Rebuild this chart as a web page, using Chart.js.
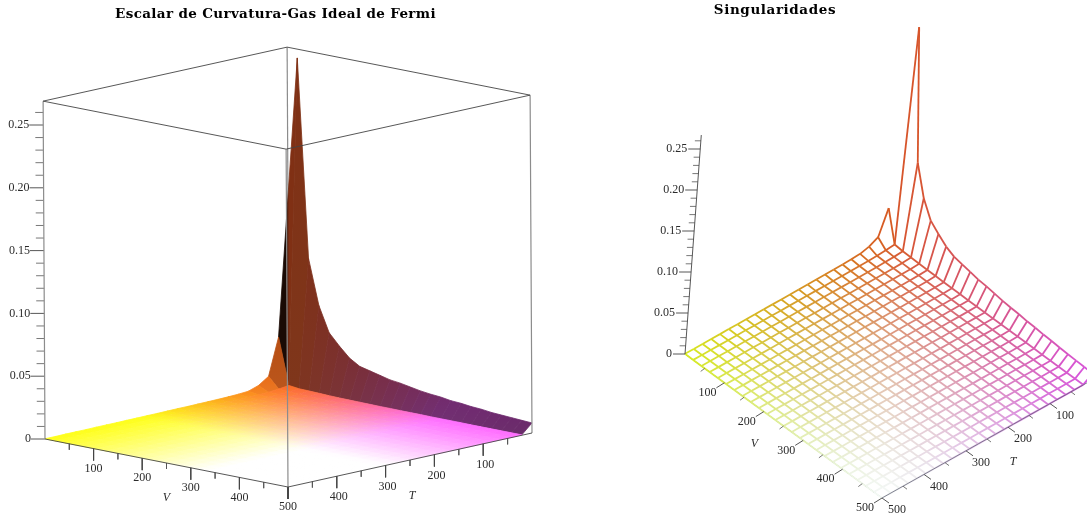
<!DOCTYPE html>
<html>
<head>
<meta charset="utf-8">
<style>
	html, body { margin: 0; background: #fff; }
	canvas { display: block; }
</style>
<script src="https://cdn.jsdelivr.net/npm/chart.js@4"></script>
</head>
<body>
<canvas id="chart" width="1087" height="521"></canvas>
<script>
// grid of the surface, same on both plots
const vGrid = [0, 20.8, 41.7, 62.5, 83.3, 104.2, 125, 145.8, 166.7, 187.5, 208.3, 229.2, 250, 270.8, 291.7, 312.5, 333.3, 354.2, 375, 395.8, 416.7, 437.5, 458.3, 479.2, 500];
const tGrid = [0, 20.8, 41.7, 62.5, 83.3, 104.2, 125, 145.8, 166.7, 187.5, 208.3, 229.2, 250, 270.8, 291.7, 312.5, 333.3, 354.2, 375, 395.8, 416.7, 437.5, 458.3, 479.2, 500];

// curvature, one row per T, one column per V
const zGrid = [
	[null, .262, .104, .068, .048, .039, .031, .026, .024, .022, .020, .019, .0175, .016, .015, .0143, .013, .0125, .0115, .011, .010, .0095, .009, .0085, .008],
	[.040, .0030, .0020, .0018, .0015, .0012, .0010, .0009, .0008, .0007, .0006, .0006, .0005, .0005, .0005, .0004, .0004, .0004, .0004, .0003, .0003, .0003, .0003, .0003, .0003],
	[.0105, .0020, .0012, .0009, .0007, .0006, .0005, .0005, .0004, .0004, .0003, .0003, .0003, .0003, .0002, .0002, .0002, .0002, .0002, .0002, .0002, .0002, .0002, .0001, .0001],
	[.0050, .0012, .0009, .0006, .0005, .0004, .0003, .0003, .0003, .0002, .0002, .0002, .0002, .0002, .0002, .0001, .0001, .0001, .0001, .0001, .0001, .0001, .0001, .0001, .0001],
	[.0022, .0009, .0006, .0005, .0004, .0003, .0003, .0002, .0002, .0002, .0002, .0001, .0001, .0001, .0001, .0001, .0001, .0001, .0001, .0001, .0001, .0001, .0001, .0001, .0001],
	[.0016, .0007, .0005, .0004, .0003, .0002, .0002, .0002, .0002, .0001, .0001, .0001, .0001, .0001, .0001, .0001, .0001, .0001, .0001, .0001, .0001, 0, 0, 0, 0],
	[.0013, .0006, .0004, .0003, .0002, .0002, .0002, .0001, .0001, .0001, .0001, .0001, .0001, .0001, .0001, .0001, 0, 0, 0, 0, 0, 0, 0, 0, 0],
	[.0011, .0005, .0003, .0003, .0002, .0002, .0001, .0001, .0001, .0001, .0001, .0001, .0001, 0, 0, 0, 0, 0, 0, 0, 0, 0, 0, 0, 0],
	[.0010, .0004, .0003, .0002, .0002, .0001, .0001, .0001, .0001, .0001, .0001, 0, 0, 0, 0, 0, 0, 0, 0, 0, 0, 0, 0, 0, 0],
	[.0009, .0004, .0003, .0002, .0002, .0001, .0001, .0001, .0001, .0001, 0, 0, 0, 0, 0, 0, 0, 0, 0, 0, 0, 0, 0, 0, 0],
	[.0008, .0003, .0002, .0002, .0001, .0001, .0001, .0001, .0001, 0, 0, 0, 0, 0, 0, 0, 0, 0, 0, 0, 0, 0, 0, 0, 0],
	[.0008, .0003, .0002, .0002, .0001, .0001, .0001, .0001, 0, 0, 0, 0, 0, 0, 0, 0, 0, 0, 0, 0, 0, 0, 0, 0, 0],
	[.0007, .0003, .0002, .0001, .0001, .0001, .0001, 0, 0, 0, 0, 0, 0, 0, 0, 0, 0, 0, 0, 0, 0, 0, 0, 0, 0],
	[.0006, .0003, .0002, .0001, .0001, .0001, .0001, 0, 0, 0, 0, 0, 0, 0, 0, 0, 0, 0, 0, 0, 0, 0, 0, 0, 0],
	[.0006, .0002, .0002, .0001, .0001, .0001, 0, 0, 0, 0, 0, 0, 0, 0, 0, 0, 0, 0, 0, 0, 0, 0, 0, 0, 0],
	[.0005, .0002, .0001, .0001, .0001, .0001, 0, 0, 0, 0, 0, 0, 0, 0, 0, 0, 0, 0, 0, 0, 0, 0, 0, 0, 0],
	[.0005, .0002, .0001, .0001, .0001, 0, 0, 0, 0, 0, 0, 0, 0, 0, 0, 0, 0, 0, 0, 0, 0, 0, 0, 0, 0],
	[.0004, .0002, .0001, .0001, .0001, 0, 0, 0, 0, 0, 0, 0, 0, 0, 0, 0, 0, 0, 0, 0, 0, 0, 0, 0, 0],
	[.0004, .0002, .0001, .0001, 0, 0, 0, 0, 0, 0, 0, 0, 0, 0, 0, 0, 0, 0, 0, 0, 0, 0, 0, 0, 0],
	[.0004, .0002, .0001, .0001, 0, 0, 0, 0, 0, 0, 0, 0, 0, 0, 0, 0, 0, 0, 0, 0, 0, 0, 0, 0, 0],
	[.0003, .0001, .0001, .0001, 0, 0, 0, 0, 0, 0, 0, 0, 0, 0, 0, 0, 0, 0, 0, 0, 0, 0, 0, 0, 0],
	[.0003, .0001, .0001, 0, 0, 0, 0, 0, 0, 0, 0, 0, 0, 0, 0, 0, 0, 0, 0, 0, 0, 0, 0, 0, 0],
	[.0003, .0001, .0001, 0, 0, 0, 0, 0, 0, 0, 0, 0, 0, 0, 0, 0, 0, 0, 0, 0, 0, 0, 0, 0, 0],
	[.0002, .0001, .0001, 0, 0, 0, 0, 0, 0, 0, 0, 0, 0, 0, 0, 0, 0, 0, 0, 0, 0, 0, 0, 0, 0],
	[.0002, .0001, 0, 0, 0, 0, 0, 0, 0, 0, 0, 0, 0, 0, 0, 0, 0, 0, 0, 0, 0, 0, 0, 0, 0]
];

const vtMajorTicks = [100, 200, 300, 400, 500];
const vtMinorTicks = [50, 150, 250, 350, 450];
const zMajorTicks = [0, 0.05, 0.10, 0.15, 0.20, 0.25];
const zMinorTicks = [0.01, 0.02, 0.03, 0.04, 0.06, 0.07, 0.08, 0.09, 0.11, 0.12, 0.13, 0.14, 0.16, 0.17, 0.18, 0.19, 0.21, 0.22, 0.23, 0.24, 0.26];
const zTop = 0.269;

const titles = ['Escalar de Curvatura-Gas Ideal de Fermi', 'Singularidades'];

// affine views: corner V=0,T=0 plus one step per unit of V, T and z
const leftView = { ox: 289, oy: 385, vx: 243 / 500, vy: 48 / 500, tx: -244 / 500, ty: 54 / 500, zx: -7, zy: -1256 };
const rightView = { ox: 895, oy: 236, vx: 197 / 500, vy: 144 / 500, tx: -210 / 500, ty: 118 / 500, zx: 61, zy: -820 };

function project(view, v, t, z) {
	return {
		x: view.ox + v * view.vx + t * view.tx + z * view.zx,
		y: view.oy + v * view.vy + t * view.ty + z * view.zy
	};
}

function surfaceColor(v, t) {
	return [255, 255 * Math.min(1, 0.38 + 0.62 * t / 300), 255 * Math.min(1, 0.1 + 0.9 * v / 330)];
}

function css(rgb, shade) {
	return `rgb(${rgb.map(c => Math.round(c * shade)).join(',')})`;
}

function facetShade(i, j, corners) {
	if (j === 0) return 0.5 - 0.08 * i / 23;
	const zs = corners.map(c => c.z);
	return 1 / (1 + (Math.max(...zs) - Math.min(...zs)) * 10);
}

const datasets = [];

// filled surface, one dataset per facet, back corner first
for (let j = 0; j < tGrid.length - 1; j++) {
	for (let i = 0; i < vGrid.length - 1; i++) {
		const corners = [[i, j], [i + 1, j], [i + 1, j + 1], [i, j + 1]]
			.filter(([a, b]) => zGrid[b][a] !== null)
			.map(([a, b]) => ({ v: vGrid[a], t: tGrid[b], z: zGrid[b][a] }));
		const pts = corners.map(c => project(leftView, c.v, c.t, c.z));
		const shade = facetShade(i, j, corners);
		const isWedge = corners.length === 3;
		const a = corners[0], b = corners[isWedge ? 1 : 2];
		const paint = (ctx) => {
			const sx = ctx.chart.scales.x, sy = ctx.chart.scales.y;
			const pa = project(leftView, a.v, a.t, a.z), pb = project(leftView, b.v, b.t, b.z);
			const x0 = sx.getPixelForValue(pa.x), y0 = sy.getPixelForValue(pa.y);
			const x1 = sx.getPixelForValue(pb.x), y1 = sy.getPixelForValue(pb.y);
			// scales are not laid out yet on the first pass
			if (![x0, y0, x1, y1].every(Number.isFinite)) return css(surfaceColor(a.v, a.t), shade);
			if (isWedge) {
				// the wedge behind the spike: black left of the foot of the spike, brown to the right
				const grad = ctx.chart.ctx.createLinearGradient(x1 - 3, 0, x1, 0);
				grad.addColorStop(0, css(surfaceColor(a.v, a.t), 0.1));
				grad.addColorStop(1, css(surfaceColor(a.v, a.t), 0.5));
				return grad;
			}
			const grad = ctx.chart.ctx.createLinearGradient(x0, y0, x1, y1);
			grad.addColorStop(0, css(surfaceColor(a.v, a.t), shade));
			grad.addColorStop(1, css(surfaceColor(b.v, b.t), shade));
			return grad;
		};
		datasets.push({
			data: pts.concat([pts[0]]),
			showLine: true,
			fill: 'shape',
			backgroundColor: paint,
			borderColor: paint,
			borderWidth: 0.8,
			pointRadius: 0,
			order: 100 - i - j
		});
	}
}

function meshColor(v, t) {
	// the mesh runs from orange at the back, fading out towards the front corner
	const rgb = [215, 85 + 150 * t / 500, 35 + 190 * v / 500];
	const fade = 0.75 * Math.pow(Math.min(v, t) / 500, 1.5);
	return css(rgb.map(x => x + (255 - x) * fade), 1);
}

// wire mesh on the right
function addMeshLine(cells) {
	datasets.push({
		data: cells.map(([i, j]) => zGrid[j][i] === null ? { x: NaN, y: NaN } : project(rightView, vGrid[i], tGrid[j], zGrid[j][i])),
		showLine: true,
		borderWidth: 1.8,
		pointRadius: 0,
		borderColor: '#d08040',
		segment: {
			borderColor: (ctx) => {
				const [i, j] = cells[ctx.p0DataIndex];
				return meshColor(vGrid[i], tGrid[j]);
			}
		},
		order: 40
	});
}
tGrid.forEach((t, j) => addMeshLine(vGrid.map((v, i) => [i, j])));
vGrid.forEach((v, i) => addMeshLine(tGrid.map((t, j) => [i, j])));

function addLines(segments, color, width, order) {
	const data = [];
	segments.forEach(([a, b]) => data.push(a, b, { x: NaN, y: NaN }));
	datasets.push({ data, showLine: true, borderColor: color, borderWidth: width, pointRadius: 0, order });
}

function offset(p, dx, dy) {
	return { x: p.x + dx, y: p.y + dy };
}

// box of the left plot
const L = (v, t, z) => project(leftView, v, t, z);
addLines([[L(0, 0, 0), L(0, 0, zTop)]], '#8c8c8c', 1.2, 200);
addLines([
	[L(0, 500, 0), L(500, 500, 0)], [L(500, 500, 0), L(500, 0, 0)],
	[L(0, 500, zTop), L(500, 500, zTop)], [L(500, 500, zTop), L(500, 0, zTop)],
	[L(500, 0, zTop), L(0, 0, zTop)], [L(0, 0, zTop), L(0, 500, zTop)]
], '#444', 0.9, 10);
addLines([
	[L(0, 500, 0), L(0, 500, zTop)], [L(500, 500, 0), L(500, 500, zTop)], [L(500, 0, 0), L(500, 0, zTop)]
], '#8c8c8c', 1.2, 10);

// ticks, left plot
const ticks = [], minors = [];
vtMajorTicks.forEach(n => {
	ticks.push([L(n, 500, 0), offset(L(n, 500, 0), 0, 12)]);
	ticks.push([L(500, n, 0), offset(L(500, n, 0), 0, 12)]);
});
vtMinorTicks.forEach(n => {
	minors.push([L(n, 500, 0), offset(L(n, 500, 0), 0, 6)]);
	minors.push([L(500, n, 0), offset(L(500, n, 0), 0, 6)]);
});
zMajorTicks.forEach(z => ticks.push([L(0, 500, z), offset(L(0, 500, z), -14, 0)]));
zMinorTicks.forEach(z => minors.push([L(0, 500, z), offset(L(0, 500, z), -8, 0)]));

// axes and ticks, right plot
const R = (v, t, z) => project(rightView, v, t, z);
addLines([[R(0, 500, 0), R(500, 500, 0)]], '#555', 0.9, 50);
addLines([[R(0, 500, 0), R(0, 500, 0.267)]], '#444', 0.9, 10);
addLines([[R(500, 500, 0), R(500, 0, 0)]], '#667', 0.8, 10);
vtMajorTicks.forEach(n => {
	ticks.push([R(n, 500, 0), offset(R(n, 500, 0), -8, 5)]);
	ticks.push([R(500, n, 0), offset(R(500, n, 0), 7, 5)]);
});
vtMinorTicks.forEach(n => {
	minors.push([R(n, 500, 0), offset(R(n, 500, 0), -4, 3)]);
	minors.push([R(500, n, 0), offset(R(500, n, 0), 4, 3)]);
});
zMajorTicks.forEach(z => ticks.push([R(0, 500, z), offset(R(0, 500, z), -12, 0)]));
zMinorTicks.forEach(z => minors.push([R(0, 500, z), offset(R(0, 500, z), -6, 0)]));
addLines(ticks, '#444', 0.9, 10);
addLines(minors, '#555', 0.8, 10);

// all the text goes through one small plugin
const textPlugin = {
	id: 'plotText',
	afterDraw(chart) {
		const ctx = chart.ctx;
		const sx = chart.scales.x, sy = chart.scales.y;
		const put = (text, p, align, font, color) => {
			ctx.font = font;
			ctx.textAlign = align;
			ctx.textBaseline = 'middle';
			ctx.fillStyle = color || '#2b2b2b';
			ctx.fillText(text, sx.getPixelForValue(p.x), sy.getPixelForValue(p.y));
		};
		const tickFont = '12px "Liberation Serif"';
		const axisFont = 'italic 12px "Liberation Serif"';

		ctx.save();
		ctx.letterSpacing = '0.35px';
		put(titles[0], { x: 275.5, y: 14 }, 'center', 'bold 13.5px "DejaVu Serif"', '#000');
		ctx.letterSpacing = '0.6px';
		put(titles[1], { x: 775, y: 10 }, 'center', 'bold 13.5px "DejaVu Serif"', '#000');
		ctx.letterSpacing = '0px';

		vtMajorTicks.forEach(n => {
			put(String(n), offset(L(n, 500, 0), 0, 20), 'center', tickFont);
			if (n < 500) put(String(n), offset(L(500, n, 0), 2, 21), 'center', tickFont);
			put(String(n), offset(R(n, 500, 0), -17, 10), 'center', tickFont);
			put(String(n), offset(R(500, n, 0), 15, 12), 'center', tickFont);
		});
		zMajorTicks.forEach(z => {
			const label = z === 0 ? '0' : z.toFixed(2);
			put(label, offset(L(0, 500, z), -14, 0), 'right', tickFont);
			put(label, offset(R(0, 500, z), -13, 0), 'right', tickFont);
		});
		put('V', offset(L(250, 500, 0), 0, 35), 'center', axisFont);
		put('T', offset(L(500, 250, 0), 2, 36), 'center', axisFont);
		put('V', offset(R(250, 500, 0), -29, 18), 'center', axisFont);
		put('T', offset(R(500, 250, 0), 26, 23), 'center', axisFont);
		ctx.restore();
	}
};

new Chart(document.getElementById('chart'), {
	type: 'scatter',
	data: { datasets },
	plugins: [textPlugin],
	options: {
		responsive: false,
		animation: false,
		layout: { padding: 0 },
		plugins: { legend: { display: false }, tooltip: { enabled: false }, title: { display: false } },
		scales: {
			x: { type: 'linear', min: 0, max: 1087, display: false },
			y: { type: 'linear', min: 0, max: 521, reverse: true, display: false }
		}
	}
});
</script>
</body>
</html>
